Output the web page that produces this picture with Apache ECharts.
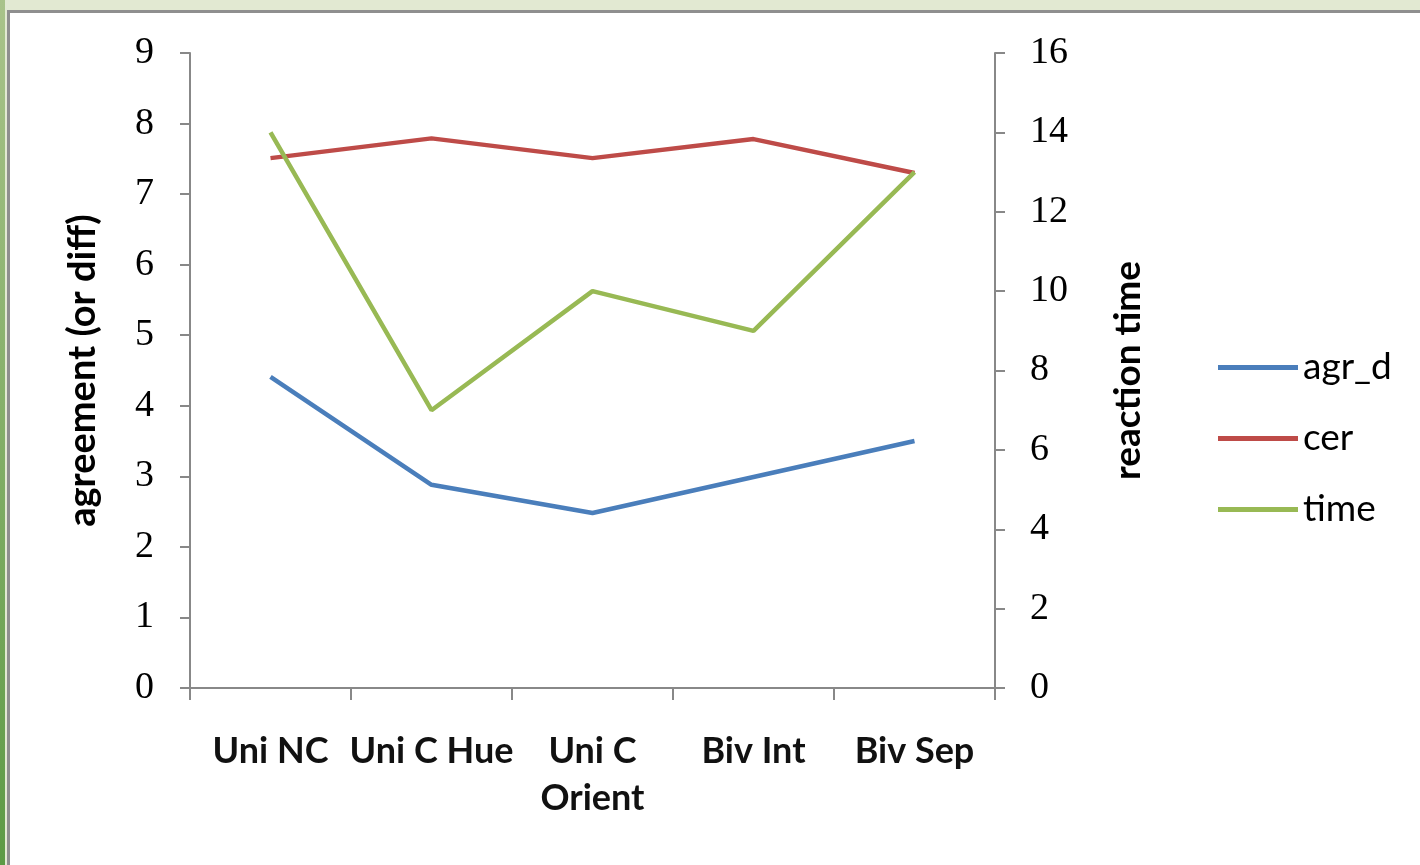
<!DOCTYPE html>
<html>
<head>
<meta charset="utf-8">
<script src="https://cdn.jsdelivr.net/npm/echarts@6/dist/echarts.min.js"></script>
<style>
html,body{margin:0;padding:0;width:1420px;height:865px;overflow:hidden;background:#e2e9d2;}
#strip{position:absolute;left:0;top:0;width:5px;height:865px;background:linear-gradient(#a9c38a,#5d9a45);}
#frame{position:absolute;left:7px;top:10px;width:1413px;height:855px;background:#fff;border-left:3px solid #8f8f8f;border-top:3px solid #8f8f8f;box-sizing:border-box;}
#chart{position:absolute;left:0;top:0;width:1420px;height:865px;}
</style>
</head>
<body>
<div id="strip"></div>
<div id="frame"></div>
<div id="chart"></div>
<script>
const categories = ['Uni NC', 'Uni C Hue', 'Uni C\nOrient', 'Biv Int', 'Biv Sep'];
const agr_d = [4.41, 2.88, 2.48, 2.99, 3.50];
const cer = [7.51, 7.79, 7.51, 7.78, 7.30];
const time = [14, 7, 10, 9, 13];
const seriesNames = ['agr_d', 'cer', 'time'];
const colors = ['#4a7ebb', '#be4b48', '#98b954'];

const chart = echarts.init(document.getElementById('chart'));
const axisLine = {show: true, lineStyle: {color: '#888', width: 2}};
chart.setOption({
  backgroundColor: 'transparent',
  animation: false,
  color: colors,
  grid: {left: 190, right: 425, top: 53, bottom: 177},
  legend: {
    orient: 'vertical',
    left: 1218, top: 349, padding: 0,
    itemWidth: 80, itemHeight: 5, itemGap: 34,
    icon: 'rect',
    textStyle: {fontFamily: 'Lato', fontSize: 37, color: '#000'},
    data: seriesNames
  },
  xAxis: {
    type: 'category',
    data: categories,
    boundaryGap: true,
    axisLine: axisLine,
    axisTick: {show: true, length: 12, lineStyle: {color: '#888', width: 2}},
    axisLabel: {fontFamily: 'Lato', fontWeight: 'bold', fontSize: 36, color: '#111', margin: 40, lineHeight: 47, interval: 0},
    splitLine: {show: false}
  },
  yAxis: [
    {
      type: 'value', min: 0, max: 9, interval: 1, position: 'left',
      name: 'agreement (or diff)', nameLocation: 'middle', nameGap: 88,
      nameTextStyle: {fontFamily: 'Lato', fontWeight: 'bold', fontSize: 38, color: '#000'},
      axisLine: axisLine,
      axisTick: {show: true, length: 10, lineStyle: {color: '#888', width: 2}},
      axisLabel: {fontFamily: 'Liberation Serif', fontSize: 38, color: '#000', margin: 36},
      splitLine: {show: false}
    },
    {
      type: 'value', min: 0, max: 16, interval: 2, position: 'right',
      name: 'reaction time', nameLocation: 'middle', nameGap: 115,
      nameTextStyle: {fontFamily: 'Lato', fontWeight: 'bold', fontSize: 37, color: '#000'},
      axisLine: axisLine,
      axisTick: {show: true, length: 10, lineStyle: {color: '#888', width: 2}},
      axisLabel: {fontFamily: 'Liberation Serif', fontSize: 38, color: '#000', margin: 35},
      splitLine: {show: false}
    }
  ],
  series: [
    {name: 'agr_d', type: 'line', yAxisIndex: 0, data: agr_d, symbol: 'none', lineStyle: {width: 4.5, color: colors[0]}, itemStyle: {color: colors[0]}},
    {name: 'cer', type: 'line', yAxisIndex: 0, data: cer, symbol: 'none', lineStyle: {width: 4.5, color: colors[1]}, itemStyle: {color: colors[1]}},
    {name: 'time', type: 'line', yAxisIndex: 1, data: time, symbol: 'none', lineStyle: {width: 4.5, color: colors[2]}, itemStyle: {color: colors[2]}}
  ]
});
</script>
</body>
</html>
